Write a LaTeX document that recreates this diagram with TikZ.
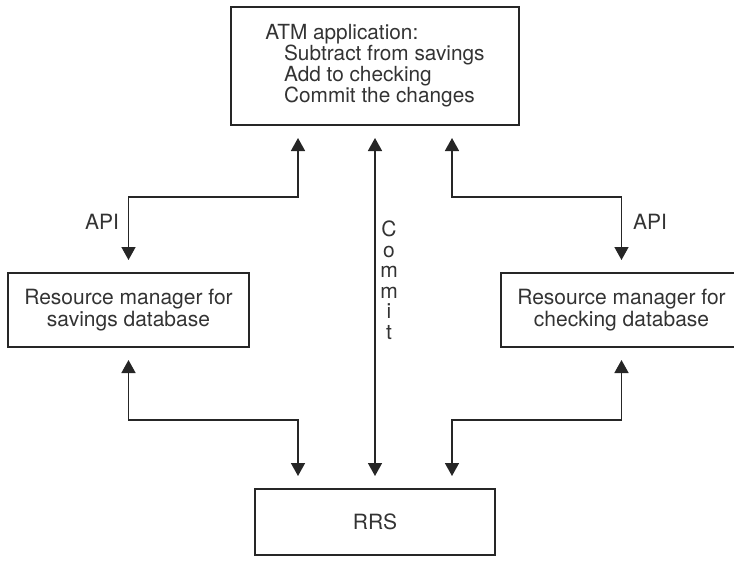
\documentclass[tikz,border=0pt]{standalone}
\usepackage{fontspec}
\setmainfont{TeX Gyre Heros}
\usetikzlibrary{arrows.meta,positioning}

\begin{document}
\begin{tikzpicture}[x=1pt, y=-1pt,
		box/.style={draw=black!85, line width=1.6pt, inner sep=0pt, outer sep=0pt, text=black!80, align=center, font=\fontsize{21}{22}\selectfont},
		link/.style={draw=black!85, line width=1.6pt, {Triangle[width=14pt,length=13pt]}-{Triangle[width=14pt,length=13pt]}, shorten <=13pt, shorten >=13pt},
		lbl/.style={text=black!80, inner sep=0pt, font=\fontsize{21}{20.5}\selectfont}]
		\useasboundingbox (0,0) rectangle (734,563);

		% Application on top
		\node[box, minimum width=288, minimum height=118, align=left, font=\fontsize{20.8}{19.5}\selectfont] (atm) at (375,66)
			{ATM application:\\\hspace*{0.9em}Subtract from savings\\\hspace*{0.9em}Add to checking\\\hspace*{0.9em}Commit the changes};

		% Resource managers
		\node[box, minimum width=241, minimum height=74] (sav) at (128.5,310) {Resource manager for\\savings database};
		\node[box, minimum width=241, minimum height=74] (chk) at (621.5,310) {Resource manager for\\checking database};

		% Recovery service
		\node[box, minimum width=240, minimum height=66] (rrs) at (375,522) {RRS};

		% API calls
		\draw[link] ([xshift=-77pt]atm.south) -- ++(0,72) -| (sav.north);
		\draw[link] ([xshift=77pt]atm.south) -- ++(0,72) -| (chk.north);
		\node[lbl] (apil) at (102,222) {API};
		\node[lbl] (apir) at (650,222) {API};

		% Commit
		\draw[link] (atm.south) -- (rrs.north);
		\node[lbl, align=center] (commit) at (389,280) {C\\o\\m\\m\\i\\t};

		% Managers to RRS
		\draw[link] (sav.south) -- ++(0,73) -| ([xshift=-77pt]rrs.north);
		\draw[link] (chk.south) -- ++(0,73) -| ([xshift=77pt]rrs.north);
	\end{tikzpicture}
\end{document}
